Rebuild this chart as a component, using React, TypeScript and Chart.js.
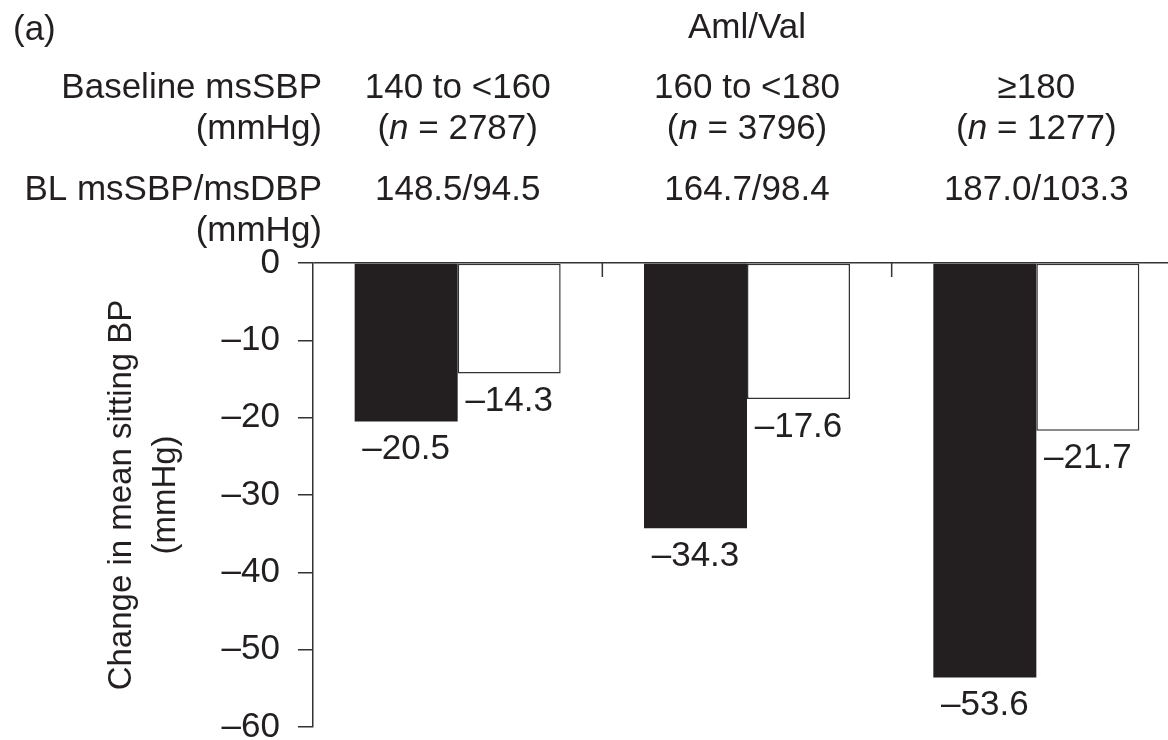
import React, { useEffect, useRef } from 'react';
import { Chart, registerables } from 'chart.js';

Chart.register(...registerables);

// ---- data ----
const categories = ['140 to <160', '160 to <180', '\u2265180'];
const sampleSizes = ['2787', '3796', '1277'];
const baselineBP = ['148.5/94.5', '164.7/98.4', '187.0/103.3'];
const sbpChange = [-20.5, -34.3, -53.6];
const dbpChange = [-14.3, -17.6, -21.7];
const yMin = -60;
const yMax = 0;
const yStep = 10;
const panelLabel = '(a)';
const treatmentLabel = 'Aml/Val';
const row1Label = ['Baseline msSBP', '(mmHg)'];
const row2Label = ['BL msSBP/msDBP', '(mmHg)'];
const yTitle = ['Change in mean sitting BP', '(mmHg)'];

const FONT = '"Liberation Sans", Arial, Helvetica, sans-serif';
const TEXT = '#231f20';
const LINE = '#333333';

const fmt = (v: number, digits: number) =>
  v < 0 ? '\u2013' + Math.abs(v).toFixed(digits) : v.toFixed(digits);

const headerPlugin = {
  id: 'headerPlugin',
  afterDatasetsDraw(chart: any) {
    const ctx = chart.ctx as CanvasRenderingContext2D;
    const xs = chart.scales.x;
    const area = chart.chartArea;
    ctx.save();
    ctx.fillStyle = TEXT;
    ctx.textBaseline = 'middle';
    const size = 35;
    ctx.font = `${size}px ${FONT}`;

    // panel label and treatment label
    ctx.textAlign = 'left';
    ctx.fillText(panelLabel, 13, 30);
    ctx.textAlign = 'center';
    ctx.fillText(treatmentLabel, xs.getPixelForValue(1), 28);

    // row labels (right-aligned)
    const rx = area.left + 9;
    ctx.textAlign = 'right';
    ctx.fillText(row1Label[0], rx, 88);
    ctx.fillText(row1Label[1], rx, 129);
    ctx.fillText(row2Label[0], rx, 190);
    ctx.fillText(row2Label[1], rx, 231);

    // category rows
    categories.forEach((c, i) => {
      const cx = xs.getPixelForValue(i);
      ctx.textAlign = 'center';
      ctx.font = `${size}px ${FONT}`;
      ctx.fillText(c, cx, 88);
      ctx.fillText(baselineBP[i], cx, 190);

      // (n = xxxx) with italic n
      const parts: [string, boolean][] = [['(', false], ['n', true], [' = ' + sampleSizes[i] + ')', false]];
      const widths = parts.map(([t, it]) => {
        ctx.font = `${it ? 'italic ' : ''}${size}px ${FONT}`;
        return ctx.measureText(t).width;
      });
      const total = widths.reduce((a, b) => a + b, 0);
      let px = cx - total / 2;
      ctx.textAlign = 'left';
      parts.forEach(([t, it], k) => {
        ctx.font = `${it ? 'italic ' : ''}${size}px ${FONT}`;
        ctx.fillText(t, px, 129);
        px += widths[k];
      });
    });

    // separator ticks between categories on the zero line
    const y0 = chart.scales.y.getPixelForValue(0);
    ctx.strokeStyle = LINE;
    ctx.lineWidth = 1.5;
    for (let i = 0; i < categories.length - 1; i++) {
      const sx = (xs.getPixelForValue(i) + xs.getPixelForValue(i + 1)) / 2;
      ctx.beginPath();
      ctx.moveTo(sx, y0);
      ctx.lineTo(sx, y0 + 14);
      ctx.stroke();
    }

    // value labels below bars
    ctx.font = `${size}px ${FONT}`;
    ctx.textAlign = 'center';
    ctx.fillStyle = TEXT;
    chart.data.datasets.forEach((ds: any, di: number) => {
      const meta = chart.getDatasetMeta(di);
      meta.data.forEach((el: any, i: number) => {
        ctx.fillText(fmt(ds.data[i], 1), el.x, el.y + 28);
      });
    });
    ctx.restore();
  },
};

export default function App() {
  const ref = useRef<HTMLCanvasElement | null>(null);

  useEffect(() => {
    if (!ref.current) return;
    const chart = new Chart(ref.current, {
      type: 'bar',
      data: {
        labels: categories,
        datasets: [
          {
            label: 'msSBP',
            data: sbpChange,
            backgroundColor: '#231f20',
            borderColor: '#231f20',
            borderWidth: 0,
          },
          {
            label: 'msDBP',
            data: dbpChange,
            backgroundColor: '#ffffff',
            borderColor: LINE,
            borderWidth: 1.5,
            borderSkipped: false,
          },
        ],
      },
      options: {
        responsive: false,
        animation: false,
        devicePixelRatio: 1,
        layout: { padding: { top: 263, left: 0, right: 9, bottom: 43 } },
        datasets: { bar: { categoryPercentage: 0.712, barPercentage: 1 } },
        plugins: {
          legend: { display: false },
          tooltip: { enabled: false },
          title: { display: false },
        },
        scales: {
          x: {
            display: false,
          },
          y: {
            min: yMin,
            max: yMax,
            afterFit: (scale: any) => {
              scale.width = 313;
            },
            ticks: {
              stepSize: yStep,
              color: TEXT,
              padding: 18,
              font: { family: FONT, size: 35 },
              callback: (v: any) => fmt(Number(v), 0),
            },
            grid: {
              drawOnChartArea: true,
              drawTicks: true,
              tickLength: 15,
              lineWidth: 1.5,
              tickColor: LINE,
              color: (c: any) => (c.tick && c.tick.value === 0 ? LINE : 'rgba(0,0,0,0)'),
            },
            border: { display: true, color: LINE, width: 1.5 },
            title: {
              display: true,
              text: yTitle,
              color: TEXT,
              font: { family: FONT, size: 33, lineHeight: 1.36 },
              padding: { top: 99, bottom: 0 },
            },
          },
        },
      },
      plugins: [headerPlugin],
    });
    return () => chart.destroy();
  }, []);

  return (
    <div
      style={{
        position: 'absolute',
        left: 0,
        top: 0,
        width: 1168,
        height: 740,
        overflow: 'hidden',
        background: '#ffffff',
      }}
    >
      <canvas ref={ref} width={1190} height={770} style={{ display: 'block', width: 1190, height: 770 }} />
    </div>
  );
}
